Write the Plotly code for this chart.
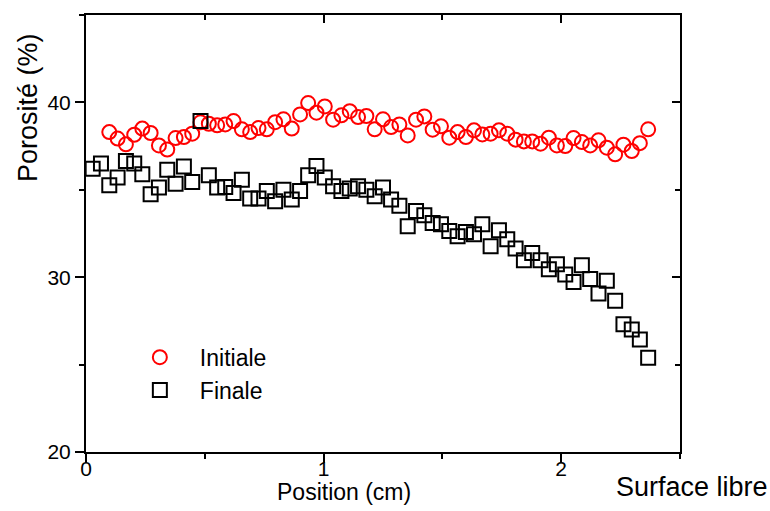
import plotly.graph_objects as go

# Positions (cm) of the measurement points
pos_finale = [0.028, 0.063, 0.098, 0.133, 0.168, 0.203, 0.237, 0.272, 0.307, 0.342,
              0.377, 0.412, 0.447, 0.482, 0.517, 0.552, 0.586, 0.621, 0.656, 0.691,
              0.726, 0.761, 0.796, 0.831, 0.866, 0.901, 0.935, 0.970, 1.005, 1.040,
              1.075, 1.110, 1.145, 1.180, 1.215, 1.250, 1.284, 1.319, 1.354, 1.389,
              1.424, 1.459, 1.494, 1.529, 1.564, 1.599, 1.633, 1.668, 1.703, 1.738,
              1.773, 1.808, 1.843, 1.878, 1.913, 1.948, 1.982, 2.017, 2.052, 2.087,
              2.122, 2.157, 2.192, 2.227, 2.262, 2.297, 2.331, 2.366]

por_finale = [36.21, 36.50, 35.26, 35.70, 36.65, 36.50, 35.89, 34.74, 35.13, 36.15,
              35.35, 36.34, 35.45, 38.93, 35.83, 35.13, 35.16, 34.82, 35.58, 34.50,
              34.50, 34.93, 34.34, 35.01, 34.44, 34.93, 35.83, 36.36, 35.70, 35.20,
              34.93, 35.07, 35.20, 35.01, 34.63, 35.13, 34.44, 34.09, 32.91, 33.79,
              33.54, 33.10, 33.03, 32.65, 32.34, 32.59, 32.46, 33.03, 31.77, 32.69,
              32.17, 31.64, 30.97, 31.39, 30.97, 30.46, 30.74, 30.15, 29.73, 30.69,
              29.89, 29.07, 29.79, 28.65, 27.31, 27.01, 26.44, 25.39]

pos_initiale = [0.098, 0.133, 0.168, 0.203, 0.237, 0.272, 0.307, 0.342,
                0.377, 0.412, 0.447, 0.482, 0.517, 0.552, 0.586, 0.621, 0.656, 0.691,
                0.726, 0.761, 0.796, 0.831, 0.866, 0.901, 0.935, 0.970, 1.005, 1.040,
                1.075, 1.110, 1.145, 1.180, 1.215, 1.250, 1.284, 1.319, 1.354, 1.389,
                1.424, 1.459, 1.494, 1.529, 1.564, 1.599, 1.633, 1.668, 1.703, 1.738,
                1.773, 1.808, 1.843, 1.878, 1.913, 1.948, 1.982, 2.017, 2.052, 2.087,
                2.122, 2.157, 2.192, 2.227, 2.262, 2.297, 2.331, 2.366]

por_initiale = [38.30, 37.93, 37.60, 38.15, 38.50, 38.25, 37.54, 37.30, 37.96, 38.02,
                38.21, 38.86, 38.78, 38.69, 38.74, 38.93, 38.46, 38.30, 38.53, 38.46,
                38.87, 39.03, 38.50, 39.31, 39.96, 39.41, 39.77, 39.01, 39.26, 39.50,
                39.16, 39.22, 38.46, 39.03, 38.59, 38.74, 38.11, 39.01, 39.20, 38.44,
                38.63, 37.98, 38.30, 38.02, 38.40, 38.17, 38.21, 38.40, 38.21, 37.87,
                37.77, 37.77, 37.64, 37.98, 37.54, 37.50, 37.96, 37.73, 37.54, 37.83,
                37.41, 37.03, 37.58, 37.22, 37.67, 38.46]

x_ticks = [0, 1, 2]
y_ticks = [20, 30, 40]
x_range = [0, 2.5]
y_range = [20, 45]

FONT = "Liberation Sans, Arial, sans-serif"

fig = go.Figure()
fig.add_trace(go.Scatter(
    x=pos_initiale, y=por_initiale, mode="markers", name="Initiale",
    marker=dict(symbol="circle-open", size=14, color="#ff0000", line=dict(width=2, color="#ff0000")),
))
fig.add_trace(go.Scatter(
    x=pos_finale, y=por_finale, mode="markers", name="Finale",
    marker=dict(symbol="square-open", size=14, color="#000000", line=dict(width=2, color="#000000")),
))
# empty trace to bind mirror axes (top/right, inward ticks)
fig.add_trace(go.Scatter(x=[], y=[], xaxis="x2", yaxis="y2", showlegend=False, hoverinfo="skip"))

common = dict(showgrid=False, zeroline=False, showline=True, linecolor="black", linewidth=2)

fig.update_layout(
    width=770, height=511, autosize=False,
    margin=dict(l=86, r=90, t=15, b=59, pad=0),
    paper_bgcolor="white", plot_bgcolor="white",
    font=dict(family=FONT, color="black", size=20),
    xaxis=dict(range=x_range, tickvals=x_ticks, ticktext=[str(v) for v in x_ticks],
               ticks="outside", ticklen=9, tickwidth=2, tickcolor="black",
               minor=dict(dtick=0.5, tick0=0, ticks="outside", ticklen=5, tickwidth=2, tickcolor="black"),
               tickfont=dict(size=21, family=FONT), ticklabelstandoff=-12,
               **common),
    yaxis=dict(range=y_range, tickvals=y_ticks, ticktext=[str(v) for v in y_ticks],
               ticks="outside", ticklen=9, tickwidth=2, tickcolor="black",
               minor=dict(dtick=5, tick0=0, ticks="outside", ticklen=5, tickwidth=2, tickcolor="black"),
               tickfont=dict(size=21, family=FONT),
               **common),
    xaxis2=dict(range=x_range, overlaying="x", side="top", anchor="y", tickvals=x_ticks,
                ticks="inside", ticklen=8, tickwidth=2, tickcolor="black", showticklabels=False,
                minor=dict(dtick=0.5, tick0=0, ticks="inside", ticklen=5, tickwidth=2, tickcolor="black"),
                **common),
    yaxis2=dict(range=y_range, overlaying="y", side="right", anchor="x", tickvals=y_ticks,
                ticks="inside", ticklen=8, tickwidth=2, tickcolor="black", showticklabels=False,
                minor=dict(dtick=5, tick0=0, ticks="inside", ticklen=5, tickwidth=2, tickcolor="black"),
                **common),
    legend=dict(x=0.057, y=0.266, xanchor="left", yanchor="top", bgcolor="rgba(0,0,0,0)",
                font=dict(size=23, family=FONT), itemwidth=70),
    annotations=[
        dict(text="Porosité (%)", xref="paper", yref="paper", x=-0.0976, y=0.787,
             xanchor="center", yanchor="middle", textangle=-90, showarrow=False,
             font=dict(size=27, family=FONT)),
        dict(text="Position (cm)", xref="paper", yref="paper", x=0.434, y=-0.0915,
             xanchor="center", yanchor="middle", showarrow=False,
             font=dict(size=23, family=FONT)),
        dict(text="Surface libre", xref="paper", yref="paper", x=0.889, y=-0.080,
             xanchor="left", yanchor="middle", showarrow=False,
             font=dict(size=27, family=FONT)),
    ],
)

fig.write_html("out.html", config={"displayModeBar": False},
               post_script="document.body.style.margin='0';")
